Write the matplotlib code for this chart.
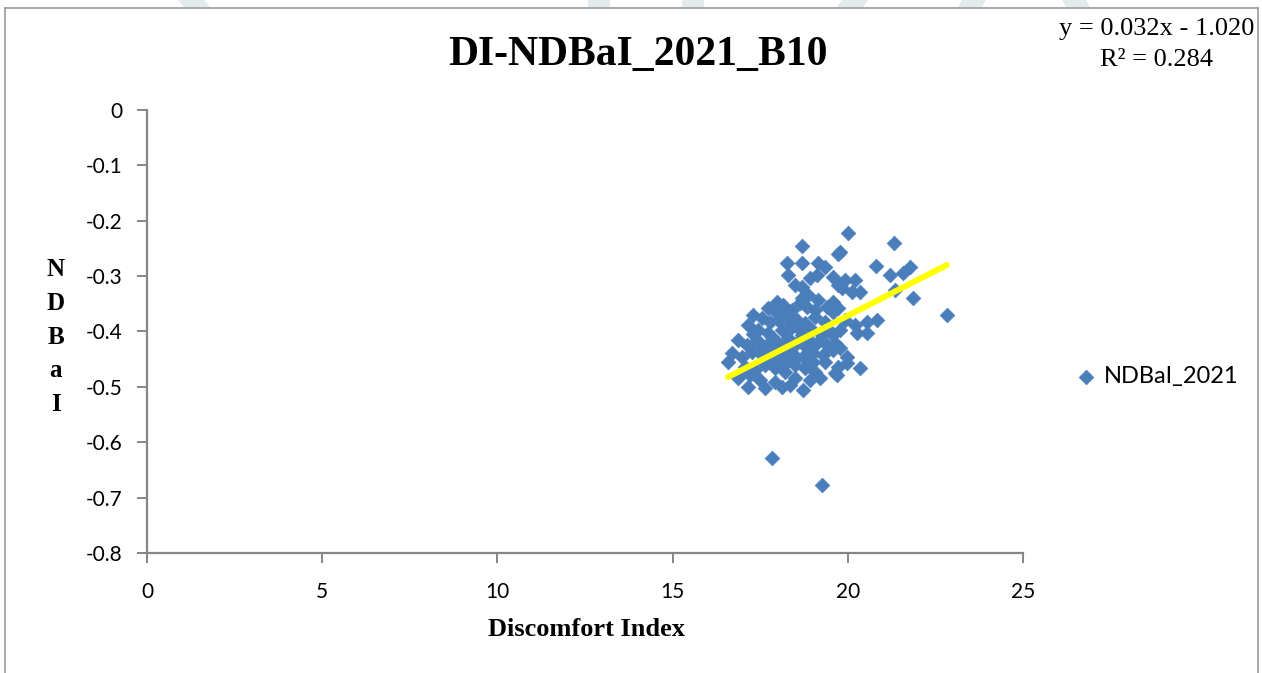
import matplotlib.pyplot as plt
from matplotlib.lines import Line2D
from matplotlib.patches import Polygon
import numpy as np

# Discomfort Index vs NDBaI, 2021 (band 10)
di = [
    20.01, 21.32, 18.69, 19.78, 19.72, 18.26, 18.69, 19.15, 19.35, 20.80,
    21.78, 21.58, 21.20, 18.29, 18.92, 19.12, 19.58, 19.92, 20.21, 18.49,
    18.69, 19.72, 19.83, 20.12, 20.35, 21.35, 21.86, 18.86, 19.15, 19.58,
    19.41, 19.72, 17.98, 17.72, 18.15, 18.41, 18.64, 18.84, 19.06, 22.83,
    17.29, 17.55, 17.78, 18.01, 18.26, 18.55, 18.78, 19.06, 19.35, 19.58,
    19.92, 20.21, 20.55, 20.83, 20.55, 20.26, 19.78, 17.15, 17.44, 17.72,
    18.12, 18.41, 18.69, 18.98, 19.26, 19.58, 16.87, 17.12, 17.41, 17.69,
    17.98, 18.21, 18.55, 18.84, 19.12, 19.41, 19.63, 19.78, 19.98, 16.70,
    16.98, 17.27, 17.55, 17.84, 18.12, 18.41, 18.72, 19.01, 19.29, 19.58,
    16.58, 16.87, 17.15, 17.64, 18.12, 18.49, 18.72, 19.06, 19.35, 19.63,
    19.98, 20.35, 19.69, 19.72, 17.84, 19.26, 17.07, 17.35, 17.64, 17.92,
    18.21, 18.49, 18.78, 17.49, 17.92, 18.35, 18.92, 19.21, 17.21, 17.85,
    18.05, 18.30, 18.60, 18.90, 17.60, 17.90, 18.20, 18.45, 19.00, 17.30,
    17.95, 18.35, 18.70, 19.45, 17.05, 17.50,
]
ndbai = [
    -0.222, -0.240, -0.246, -0.256, -0.260, -0.276, -0.276, -0.276, -0.284, -0.282,
    -0.284, -0.294, -0.298, -0.298, -0.303, -0.298, -0.302, -0.307, -0.307, -0.316,
    -0.320, -0.316, -0.321, -0.329, -0.329, -0.325, -0.340, -0.334, -0.343, -0.347,
    -0.356, -0.358, -0.347, -0.358, -0.352, -0.361, -0.349, -0.356, -0.361, -0.370,
    -0.370, -0.376, -0.383, -0.379, -0.370, -0.379, -0.385, -0.374, -0.383, -0.365,
    -0.379, -0.388, -0.383, -0.379, -0.403, -0.403, -0.397, -0.388, -0.397, -0.403,
    -0.397, -0.392, -0.406, -0.397, -0.406, -0.406, -0.415, -0.424, -0.415, -0.424,
    -0.419, -0.428, -0.421, -0.430, -0.421, -0.424, -0.421, -0.430, -0.446, -0.439,
    -0.446, -0.437, -0.442, -0.439, -0.446, -0.439, -0.446, -0.439, -0.442, -0.433,
    -0.455, -0.484, -0.500, -0.502, -0.500, -0.484, -0.506, -0.473, -0.455, -0.475,
    -0.457, -0.466, -0.479, -0.464, -0.628, -0.677, -0.464, -0.470, -0.460, -0.466,
    -0.473, -0.460, -0.466, -0.488, -0.491, -0.497, -0.488, -0.484, -0.479, -0.410,
    -0.430, -0.412, -0.395, -0.415, -0.455, -0.452, -0.458, -0.452, -0.455, -0.405,
    -0.365, -0.385, -0.340, -0.395, -0.470, -0.425,
]

# linear trend (Excel trendline)
slope = 0.0324
intercept = -1.0196
r2 = 0.284

xticks = [0, 5, 10, 15, 20, 25]
yticks = [0, -0.1, -0.2, -0.3, -0.4, -0.5, -0.6, -0.7, -0.8]

blue = '#4a7ebb'
axis_grey = '#868686'
serif = ['Liberation Serif', 'DejaVu Serif']
W, H = 1262, 673

fig = plt.figure(figsize=(12.62, 6.73), dpi=100)
ax = fig.add_axes([0.1165, 0.1783, 0.694, 0.6583])

ax.scatter(di, ndbai, marker='D', s=56, color=blue, edgecolors=blue,
           linewidths=0.5, zorder=3, label='NDBaI_2021')

xs = np.array([min(di), max(di)])
ax.plot(xs, slope * xs + intercept, color='#ffff00', lw=4.3,
        solid_capstyle='round', zorder=4)

ax.set_xlim(0, 25)
ax.set_ylim(-0.8, 0)
ax.set_xticks(xticks)
ax.set_yticks(yticks)
ax.set_xticklabels([str(t) for t in xticks])
ax.set_yticklabels(['0'] + ['%g' % t for t in yticks[1:]])

for s in ['top', 'right']:
    ax.spines[s].set_visible(False)
for s in ['left', 'bottom']:
    ax.spines[s].set_color(axis_grey)
    ax.spines[s].set_linewidth(1.6)
ax.tick_params(axis='both', direction='out', length=7, width=1.4,
               color=axis_grey, labelsize=15, labelcolor='black')
ax.tick_params(axis='y', pad=11)
ax.tick_params(axis='x', pad=14)
for lab in ax.get_xticklabels() + ax.get_yticklabels():
    lab.set_family(['Lato', 'DejaVu Sans'])

fig.text(638 / W, 1 - 55 / H, 'DI-NDBaI_2021_B10', ha='center', va='center',
         family=serif, fontsize=30, fontweight='bold')
fig.text(586 / W, 1 - 629 / H, 'Discomfort Index', ha='center', va='center',
         family=serif, fontsize=19, fontweight='bold')
fig.text(56 / W, 1 - 337 / H, '\n'.join('NDBaI'), ha='center', va='center',
         family=serif, fontsize=18, fontweight='bold', linespacing=1.6)

eq = 'y = %.3fx - %.3f' % (slope, abs(intercept))
fig.text(1157 / W, 1 - 29 / H, eq, ha='center', va='center',
         family=serif, fontsize=19)
fig.text(1157 / W, 1 - 60 / H, 'R² = %.3f' % r2, ha='center', va='center',
         family=serif, fontsize=19)

fig.legend(loc='center left', bbox_to_anchor=(1060 / W, 1 - 377 / H),
           frameon=False, handletextpad=0.15, handlelength=1.2, borderpad=0,
           prop={'family': 'Lato', 'size': 17}, markerscale=1.0)

# outer chart frame (left, top, right edges)
frame = dict(color='#9a9a9a', lw=1.2, transform=fig.transFigure, zorder=1)
fig.add_artist(Line2D([5 / W, 5 / W], [0, 1 - 8 / H], **frame))
fig.add_artist(Line2D([5 / W, 1258 / W], [1 - 8 / H, 1 - 8 / H], **frame))
fig.add_artist(Line2D([1258 / W, 1258 / W], [0, 1 - 8 / H], **frame))

# faint watermark strokes above the frame
wm = '#e3eaee'
for x0, x1, lean in [(178, 204, 6), (588, 610, 0), (682, 704, 0),
                     (842, 868, -5), (962, 986, -4), (1062, 1086, 4)]:
    pts = [(x0 / W, 1.0), (x1 / W, 1.0),
           ((x1 + lean) / W, 1 - 7 / H), ((x0 + lean) / W, 1 - 7 / H)]
    fig.add_artist(Polygon(pts, closed=True, transform=fig.transFigure,
                           facecolor=wm, edgecolor='none', zorder=0))

fig.savefig('out.png', dpi=100)
